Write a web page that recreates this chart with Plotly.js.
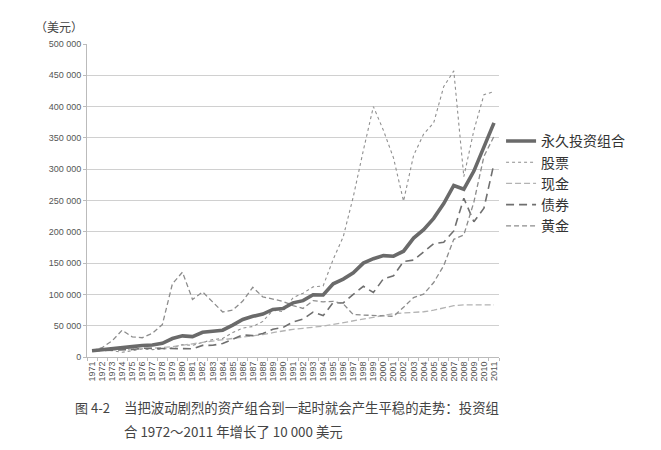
<!DOCTYPE html>
<html><head><meta charset="utf-8">
<script src="https://cdn.plot.ly/plotly-3.0.1.min.js"></script>
<style>html,body{margin:0;padding:0;background:#fff}</style>
</head><body><div id="chart" style="width:661px;height:450px"></div>
<script>
const years = [1971,1972,1973,1974,1975,1976,1977,1978,1979,1980,1981,1982,1983,1984,1985,1986,1987,1988,1989,1990,1991,1992,1993,1994,1995,1996,1997,1998,1999,2000,2001,2002,2003,2004,2005,2006,2007,2008,2009,2010,2011];
const portfolio = [10000,12000,13700,15400,16600,18300,19200,21900,29500,33800,32500,39500,41000,42800,51000,60000,65000,68500,76000,77300,86500,90000,99500,99000,117000,124500,134500,150000,157000,162000,161000,169000,190000,203500,221500,245000,274000,268000,297000,336000,374000];
const stocks = [10000,11900,10200,7500,10200,12700,11800,12500,14800,19700,18700,22700,27800,29500,39000,46300,48700,56900,74800,72500,94600,101900,112000,113500,156000,192000,256000,330000,400000,362000,318000,249000,322000,356000,374000,432000,457000,288000,362000,419000,424000];
const cash = [10000,10400,11100,12000,12700,13300,14000,15000,16600,18400,21100,23400,25400,27900,30100,32000,33700,35900,38900,41900,44300,45800,47300,49300,52000,54700,57600,60400,63200,66600,69200,70300,71200,72300,74800,78500,82000,83200,83300,83400,83400];
const bonds = [10000,10600,10500,10900,11900,13900,13800,13700,13500,13000,13200,18500,18700,21600,28200,35200,34200,37500,44300,47100,56100,60600,71700,66100,87000,86300,100000,113000,103000,125000,129600,152700,154800,168000,181100,183300,201400,253600,216000,237600,309000];
const gold = [10000,14900,25800,42800,32100,30800,37800,51800,117000,135500,92000,104000,88000,72000,74800,89400,111300,96000,92600,88800,82200,77600,90100,88100,89000,84900,67700,66800,66800,65500,65000,79400,95000,100500,119000,146000,188000,195000,247500,320500,352500];
const yTickVals = [0,50000,100000,150000,200000,250000,300000,350000,400000,450000,500000];
const yTickText = ['0','50 000','100 000','150 000','200 000','250 000','300 000','350 000','400 000','450 000','500 000'];
const names = ['永久投资组合','股票','现金','债券','黄金'];
const yUnit = '（美元）';
const captionLabel = '图 4-2';
const captionLine1 = '当把波动剧烈的资产组合到一起时就会产生平稳的走势：投资组';
const captionLine2 = '合 1972～2011 年增长了 10 000 美元';

const cjk = '"Noto Sans CJK SC", "Noto Sans", sans-serif';
const lat = '"Liberation Sans", Arial, sans-serif';

const traces = [
  {x: years, y: stocks, name: names[1], legendrank: 2, mode: 'lines', line: {color: '#8f8f8f', width: 1.1, dash: 'dot'}},
  {x: years, y: cash, name: names[2], legendrank: 3, mode: 'lines', line: {color: '#b3b3b3', width: 1.3, dash: '6px,3px'}},
  {x: years, y: bonds, name: names[3], legendrank: 4, mode: 'lines', line: {color: '#6f6f6f', width: 1.6, dash: '8px,5px'}},
  {x: years, y: gold, name: names[4], legendrank: 5, mode: 'lines', line: {color: '#8c8c8c', width: 1.3, dash: '5px,3px'}},
  {x: years, y: portfolio, name: names[0], legendrank: 1, mode: 'lines', line: {color: '#6a6a6a', width: 3.6}}
];

const layout = {
  width: 661, height: 450,
  margin: {l: 87, r: 162, t: 44, b: 93},
  paper_bgcolor: '#fff', plot_bgcolor: '#fff',
  showlegend: true,
  legend: {x: 1.005, xanchor: 'left', y: 0.74, yanchor: 'top', font: {family: cjk, size: 14, color: '#333'}, bgcolor: 'rgba(0,0,0,0)', itemwidth: 30, tracegroupgap: 0},
  xaxis: {
    range: [1970.5, 2011.5], tickmode: 'array', tickvals: years, ticktext: years.map(String),
    tickangle: -90, tickfont: {family: lat, size: 9, color: '#555'}, ticks: '', showgrid: false, zeroline: false,
    showline: true, linecolor: '#bbb', linewidth: 1,
    minor: {tickmode: 'linear', tick0: 1970.5, dtick: 1, ticks: 'outside', ticklen: 3, tickcolor: '#bbb', showgrid: false}
  },
  yaxis: {
    range: [0, 500000], tickmode: 'array', tickvals: yTickVals, ticktext: yTickText,
    tickfont: {family: lat, size: 9, color: '#555'}, showgrid: true, gridcolor: '#d0d0d0', gridwidth: 1,
    zeroline: false, showline: true, linecolor: '#bbb', linewidth: 1, ticks: 'outside', ticklen: 3, tickcolor: '#bbb'
  },
  annotations: [
    {xref: 'paper', yref: 'paper', x: -0.13, y: 1.055, xanchor: 'left', yanchor: 'middle', text: yUnit, showarrow: false, font: {family: cjk, size: 12, color: '#444'}},
    {xref: 'paper', yref: 'paper', x: -0.033, y: -0.161, xanchor: 'left', yanchor: 'middle', text: captionLabel, showarrow: false, font: {family: cjk, size: 13, color: '#444'}},
    {xref: 'paper', yref: 'paper', x: 0.085, y: -0.161, xanchor: 'left', yanchor: 'middle', text: captionLine1, showarrow: false, font: {family: cjk, size: 13.4, color: '#444'}},
    {xref: 'paper', yref: 'paper', x: 0.085, y: -0.238, xanchor: 'left', yanchor: 'middle', text: captionLine2, showarrow: false, font: {family: cjk, size: 13.4, color: '#444'}}
  ]
};

Plotly.newPlot('chart', traces, layout, {displayModeBar: false, staticPlot: true});
</script></body></html>
